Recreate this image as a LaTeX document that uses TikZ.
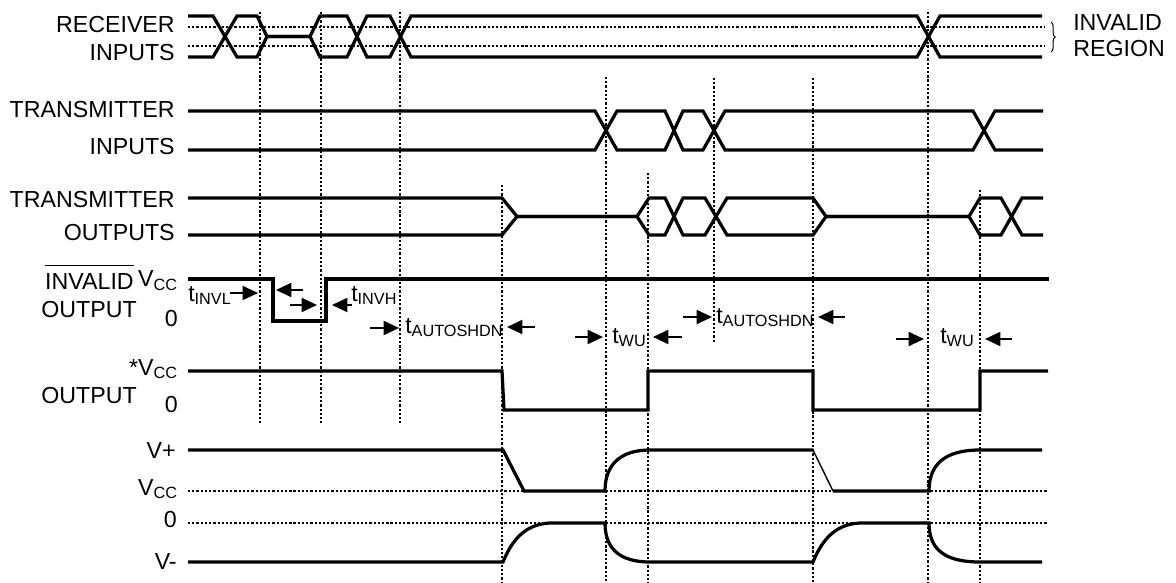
\documentclass[tikz,border=0pt]{standalone}
\usepackage{fontspec}
\setmainfont{Liberation Sans}
\usetikzlibrary{arrows.meta,decorations.pathreplacing}
\begin{document}
\begin{tikzpicture}[x=0.025cm,y=-0.025cm,
  every node/.style={inner sep=0pt,font=\fontsize{16.5}{19}\selectfont},
  sig/.style={line width=2.3pt},
  grid/.style={line width=0.9pt,dash pattern=on 1.6pt off 1.4pt},
  dim/.style={line width=1.5pt,-{Triangle[length=11pt,width=10pt]}}
  ]
  \useasboundingbox (0,0) rectangle (1176,583);

  \node[anchor=east] (rcvA) at (175,25) {RECEIVER};
  \node[anchor=east] (rcvB) at (175,53) {INPUTS};
  \node[anchor=east] (txiA) at (175,110) {TRANSMITTER};
  \node[anchor=east] (txiB) at (175,147) {INPUTS};
  \node[anchor=east] (txoA) at (175,200) {TRANSMITTER};
  \node[anchor=east] (txoB) at (175,233) {OUTPUTS};
  \node[anchor=east] (inv) at (134,282) {INVALID};
  \draw[line width=0.9pt] ([yshift=6pt]inv.north west) -- ([yshift=6pt]inv.north east);
  \node[anchor=base east] (invH) at (178,287) {V\textsubscript{CC}};
  \node[anchor=east] (invO) at (137,310) {OUTPUT};
  \node[anchor=east] (invL) at (178,319) {0};
  \node[anchor=base east] (outH) at (178,375) {*V\textsubscript{CC}};
  \node[anchor=east] (outO) at (137,396) {OUTPUT};
  \node[anchor=east] (outL) at (178,405) {0};
  \node[anchor=east] (vp) at (176,451) {V+};
  \node[anchor=base east] (vcc) at (178,495) {V\textsubscript{CC}};
  \node[anchor=east] (vz) at (177,520) {0};
  \node[anchor=east] (vm) at (177,562) {V-};
  \node[anchor=west] (regA) at (1073,23) {INVALID};
  \node[anchor=west] (regB) at (1073,49) {REGION};
  \draw[line width=0.7pt,decorate,decoration={brace,amplitude=3pt}] (1051,22) -- (1051,52);

  \draw[grid] (260,12) -- (260,423);
  \draw[grid] (321,12) -- (321,423);
  \draw[grid] (400,12) -- (400,423);
  \draw[grid] (502,185) -- (502,583);
  \draw[grid] (606,77) -- (606,583);
  \draw[grid] (648,173) -- (648,583);
  \draw[grid] (714,78) -- (714,343);
  \draw[grid] (813,78) -- (813,583);
  \draw[grid] (928,12) -- (928,583);
  \draw[grid] (980,190) -- (980,583);
  \draw[grid] (188,27) -- (1045,27);
  \draw[grid] (188,46) -- (1045,46);
  \draw[grid] (188,491) -- (1047,491);
  \draw[grid] (188,523) -- (1047,523);

  \draw[sig] (188,16) -- (213,16) -- (237,57) -- (257,57) -- (267,36.5) -- (310,36.5) -- (320,16) -- (347,16)
    -- (367,57) -- (390,57) -- (411,16) -- (917,16) -- (940,57) -- (1042,57);
  \draw[sig] (188,57) -- (213,57) -- (237,16) -- (257,16) -- (267,36.5) -- (310,36.5) -- (320,57) -- (347,57)
    -- (367,16) -- (390,16) -- (411,57) -- (917,57) -- (940,16) -- (1042,16);

  \draw[sig] (188,111) -- (595,111) -- (617,150) -- (665,150) -- (683,111) -- (703,111) -- (725,150)
    -- (973,150) -- (995,111) -- (1043,111);
  \draw[sig] (188,150) -- (595,150) -- (617,111) -- (665,111) -- (683,150) -- (703,150) -- (725,111)
    -- (973,111) -- (995,150) -- (1043,150);

  \draw[sig] (188,198) -- (502,198) -- (517,216.5) -- (637,216.5) -- (649,198) -- (665,198) -- (683,235)
    -- (705,235) -- (727,198) -- (813,198) -- (826,216.5) -- (969,216.5) -- (980,198) -- (1001,198)
    -- (1022,235) -- (1043,235);
  \draw[sig] (188,235) -- (502,235) -- (517,216.5) -- (637,216.5) -- (649,235) -- (665,235) -- (683,198)
    -- (705,198) -- (727,235) -- (813,235) -- (826,216.5) -- (969,216.5) -- (980,235) -- (1001,235)
    -- (1022,198) -- (1043,198);

  \draw[sig] (188,279) -- (273,279) -- (273,321) -- (326,321) -- (326,279) -- (1049,279);

  \draw[sig] (188,371) -- (502,371) -- (504,410) -- (648,410) -- (648,371) -- (813,371) -- (813,410)
    -- (980,410) -- (980,371) -- (1048,371);

  \draw[sig] (188,450) -- (503,450) -- (524,491) -- (605,491) .. controls (605,465) and (620,450) .. (650,450)
    -- (813,450);
  \draw[line width=1pt] (813,450) -- (833,491);
  \draw[sig] (833,491) -- (929,491) .. controls (929,465) and (944,450) .. (980,450) -- (1042,450);
  \draw[sig] (188,562) -- (503,562) .. controls (510,545) and (522,524) .. (550,523) -- (605,523)
    .. controls (605,549) and (620,562) .. (650,562) -- (813,562) .. controls (820,545) and (832,524) .. (860,523)
    -- (929,523) .. controls (929,549) and (944,562) .. (980,562) -- (1042,562);

  \node[anchor=base west] (tinvl) at (188,301) {t\textsubscript{INVL}};
  \node[anchor=base west] (tinvh) at (351,301) {t\textsubscript{INVH}};
  \node[anchor=base west] (tshdA) at (405,333) {t\textsubscript{AUTOSHDN}};
  \node[anchor=base west] (twuA) at (612,343) {t\textsubscript{WU}};
  \node[anchor=base west] (tshdB) at (716,323) {t\textsubscript{AUTOSHDN}};
  \node[anchor=base west] (twuB) at (940,343) {t\textsubscript{WU}};

  \draw[dim] (230,293) -- (258,293);
  \draw[dim] (303,290) -- (276,290);
  \draw[dim] (290,305) -- (317,305);
  \draw[dim] (352,305) -- (332,305);
  \draw[dim] (370,328) -- (399,328);
  \draw[dim] (535,327) -- (507,327);
  \draw[dim] (575,337) -- (603,337);
  \draw[dim] (682,337) -- (653,337);
  \draw[dim] (683,317) -- (712,317);
  \draw[dim] (845,317) -- (818,317);
  \draw[dim] (896,339) -- (924,339);
  \draw[dim] (1012,339) -- (985,339);
\end{tikzpicture}
\end{document}
